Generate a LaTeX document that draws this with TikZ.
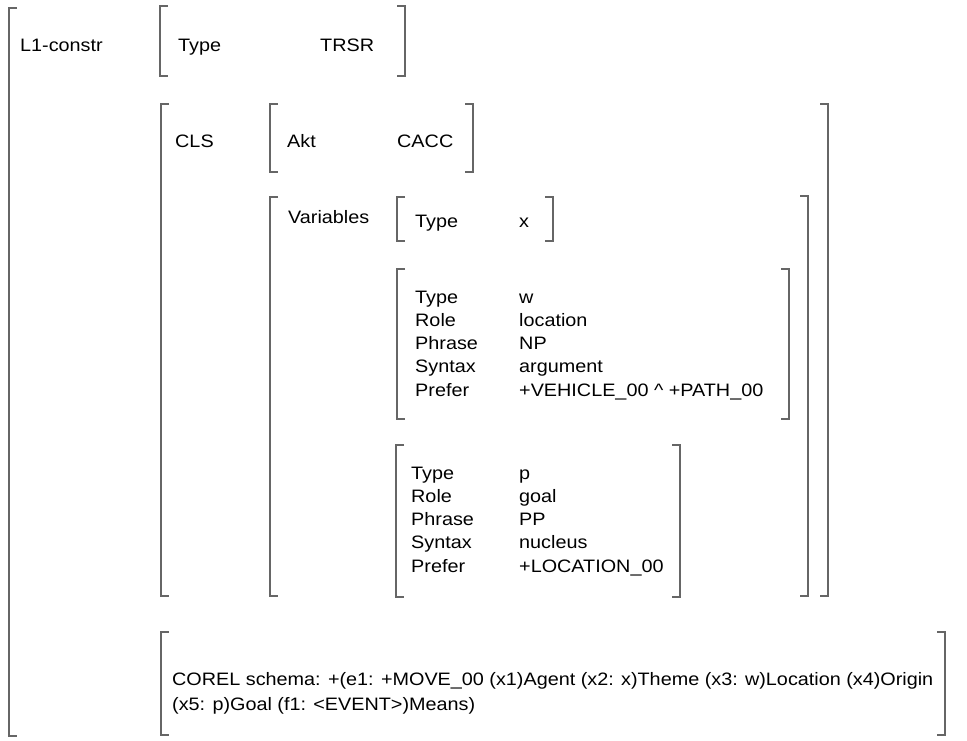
\documentclass[tikz,border=0pt]{standalone}
\usepackage{fontspec}
\setmainfont{Liberation Sans}[FakeStretch=1.1]
\usetikzlibrary{positioning}
\tikzset{
  lbl/.style={anchor=base west, inner sep=0pt, text=black,
    font=\fontsize{18}{23.2}\selectfont},
  col/.style={lbl, align=left},
  schema/.style={lbl, align=left, font=\fontsize{18}{25}\selectfont},
  brk/.style={draw=black!60, line width=1.6pt}
}

\begin{document}
\begin{tikzpicture}[x=1pt, y=-1pt]
  \useasboundingbox (0,0) rectangle (967,740);

  % outer matrix, right side cut off
  \draw[brk] (17,8) -- (9,8) -- (9,736) -- (17,736);
  \node[lbl] (lc) at (20,51) {L1-constr};

  % Type TRSR
  \draw[brk] (168,6) -- (160,6) -- (160,76) -- (168,76);
  \draw[brk] (397,6) -- (405,6) -- (405,76) -- (397,76);
  \node[lbl] (ty0) at (178,51) {Type};
  \node[lbl] (trsr) at (320,51) {TRSR};

  % CLS
  \draw[brk] (169,104) -- (161,104) -- (161,596) -- (169,596);
  \draw[brk] (820,104) -- (828,104) -- (828,596) -- (820,596);
  \node[lbl] (cls) at (175,147) {CLS};

  \draw[brk] (278,104) -- (270,104) -- (270,172) -- (278,172);
  \draw[brk] (465,104) -- (473,104) -- (473,172) -- (465,172);
  \node[lbl] (akt) at (287,147) {Akt};
  \node[lbl] (cacc) at (397,147) {CACC};

  % Variables
  \draw[brk] (278,197) -- (270,197) -- (270,596) -- (278,596);
  \draw[brk] (800,196) -- (808,196) -- (808,596) -- (800,596);
  \node[lbl] (vars) at (288,223) {Variables};

  \draw[brk] (405,197) -- (397,197) -- (397,241) -- (405,241);
  \draw[brk] (545,197) -- (553,197) -- (553,241) -- (545,241);
  \node[lbl] (tyx) at (415,227) {Type};
  \node[lbl] (vx) at (519,227) {x};

  \draw[brk] (405,269) -- (397,269) -- (397,419) -- (405,419);
  \draw[brk] (781,269) -- (789,269) -- (789,419) -- (781,419);
  \node[col] (kw) at (415,396) {Type\\Role\\Phrase\\Syntax\\Prefer};
  \node[col] (vw) at (519,396) {w\\location\\NP\\argument\\+VEHICLE\_00 \^{} +PATH\_00};

  \draw[brk] (404,445) -- (396,445) -- (396,597) -- (404,597);
  \draw[brk] (672,445) -- (680,445) -- (680,597) -- (672,597);
  \node[col] (kp) at (411,572) {Type\\Role\\Phrase\\Syntax\\Prefer};
  \node[col] (vp) at (519,572) {p\\goal\\PP\\nucleus\\+LOCATION\_00};

  % COREL schema
  \draw[brk] (169,632) -- (161,632) -- (161,735) -- (169,735);
  \draw[brk] (937,632) -- (945,632) -- (945,735) -- (937,735);
  \node[schema] (corel) at (172,710) {COREL schema: +(e1: +MOVE\_00 (x1)Agent (x2: x)Theme (x3: w)Location (x4)Origin\\(x5: p)Goal (f1: <EVENT>)Means)};
\end{tikzpicture}
\end{document}
